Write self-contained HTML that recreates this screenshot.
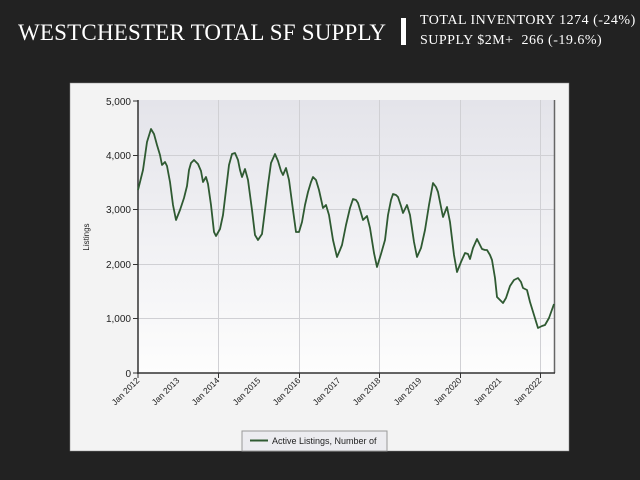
<!DOCTYPE html>
<html><head><style>
body{margin:0;width:640px;height:480px;background:#222;overflow:hidden;font-family:"Liberation Sans",sans-serif}
.t{position:absolute;color:#fff;font-family:"Liberation Serif",serif}
</style></head><body>
<div class="t" style="left:18px;top:20px;font-size:23px;letter-spacing:0.2px;white-space:nowrap">WESTCHESTER TOTAL SF SUPPLY</div>
<div style="position:absolute;left:401px;top:18px;width:5px;height:27px;background:#fff"></div>
<div class="t" style="left:420px;top:11px;font-size:14px;letter-spacing:0.5px;line-height:20px;white-space:nowrap">TOTAL INVENTORY 1274 (-24%)<br>SUPPLY $2M+&nbsp; 266 (-19.6%)</div>
<svg style="position:absolute;left:0;top:0" width="640" height="480">
<defs><linearGradient id="g" x1="0" y1="0" x2="0" y2="1"><stop offset="0" stop-color="#e4e4ea"/><stop offset="1" stop-color="#fdfdfd"/></linearGradient></defs>
<rect x="70" y="83" width="499" height="368" fill="#f3f3f3" stroke="#888" stroke-width="0.5"/>
<rect x="138" y="100" width="416" height="273" fill="url(#g)"/>
<g stroke="#d0d0d4" stroke-width="1">
<line x1="138" x2="554" y1="155.5" y2="155.5"/><line x1="138" x2="554" y1="209.5" y2="209.5"/><line x1="138" x2="554" y1="264.5" y2="264.5"/><line x1="138" x2="554" y1="318.5" y2="318.5"/>
<line x1="218.5" x2="218.5" y1="100" y2="373"/><line x1="299.5" x2="299.5" y1="100" y2="373"/><line x1="379.5" x2="379.5" y1="100" y2="373"/><line x1="460.5" x2="460.5" y1="100" y2="373"/><line x1="540.5" x2="540.5" y1="100" y2="373"/>
</g>
<line x1="554.5" x2="554.5" y1="100" y2="373" stroke="#666" stroke-width="1.5"/>
<g stroke="#333" stroke-width="1.5"><line x1="138" x2="138" y1="100" y2="374"/><line x1="137" x2="555" y1="373" y2="373"/></g>
<g stroke="#333" stroke-width="1">
<line x1="133" x2="138" y1="101" y2="101"/><line x1="133" x2="138" y1="155.5" y2="155.5"/><line x1="133" x2="138" y1="209.5" y2="209.5"/><line x1="133" x2="138" y1="264.5" y2="264.5"/><line x1="133" x2="138" y1="318.5" y2="318.5"/><line x1="133" x2="138" y1="373" y2="373"/>
<line x1="138" x2="138" y1="373" y2="378"/><line x1="218.5" x2="218.5" y1="373" y2="378"/><line x1="299.5" x2="299.5" y1="373" y2="378"/><line x1="379.5" x2="379.5" y1="373" y2="378"/><line x1="460.5" x2="460.5" y1="373" y2="378"/><line x1="540.5" x2="540.5" y1="373" y2="378"/>
</g>
<g font-size="10" fill="#222" text-anchor="end">
<text x="131" y="105">5,000</text><text x="131" y="159">4,000</text><text x="131" y="213">3,000</text><text x="131" y="268">2,000</text><text x="131" y="322">1,000</text><text x="131" y="377">0</text>
</g>
<text transform="translate(89,237) rotate(-90)" font-size="8" fill="#222" text-anchor="middle">Listings</text>
<g font-size="8.5" fill="#222" text-anchor="end">
<text transform="translate(140,381) rotate(-45)">Jan 2012</text>
<text transform="translate(180,381) rotate(-45)">Jan 2013</text>
<text transform="translate(220,381) rotate(-45)">Jan 2014</text>
<text transform="translate(261,381) rotate(-45)">Jan 2015</text>
<text transform="translate(301,381) rotate(-45)">Jan 2016</text>
<text transform="translate(341,381) rotate(-45)">Jan 2017</text>
<text transform="translate(381,381) rotate(-45)">Jan 2018</text>
<text transform="translate(422,381) rotate(-45)">Jan 2019</text>
<text transform="translate(462,381) rotate(-45)">Jan 2020</text>
<text transform="translate(502,381) rotate(-45)">Jan 2021</text>
<text transform="translate(542,381) rotate(-45)">Jan 2022</text>
</g>
<polyline fill="none" stroke="#2f5a32" stroke-width="1.8" stroke-linejoin="round" points="138,190 143,170 147,142 151,129 154,134 157,145 160,155 162,165 165,162 167,166 170,182 173,205 176,220 180,210 184,198 187,186 189,170 191,163 194,160 198,164 201,171 203,182 206,177 208,184 211,205 214,232 216,236 220,229 223,215 226,190 229,165 232,154 235,153 238,160 240,170 242,177 245,169 248,180 252,210 255,235 258,240 262,234 265,210 268,185 271,163 275,154 278,161 281,171 283,175 286,168 289,180 293,210 296,232 299,232 302,222 305,205 308,192 311,182 313,177 316,180 319,190 323,208 326,205 329,215 333,240 337,257 340,250 342,245 346,225 350,208 353,199 356,200 358,203 361,213 363,220 367,216 370,228 374,253 377,267 381,254 385,240 388,215 391,200 393,194 396,195 398,197 401,206 403,213 407,205 410,215 414,242 417,257 421,248 425,230 429,205 433,183 436,187 438,192 441,207 443,217 447,207 450,222 454,255 457,272 461,262 465,253 468,254 470,259 473,248 477,239 480,245 482,249 485,250 487,250 490,255 492,260 495,278 497,297 500,300 503,303 506,298 510,286 514,280 518,278 521,282 523,288 527,290 530,302 534,315 538,328 542,326 545,325 549,318 554,304"/>
<rect x="242" y="431" width="145" height="20" fill="#ececf0" stroke="#999" stroke-width="1"/>
<line x1="250" x2="268" y1="440.5" y2="440.5" stroke="#2f5a32" stroke-width="2"/>
<text x="272" y="444" font-size="9" fill="#222">Active Listings, Number of</text>
</svg>
</body></html>
